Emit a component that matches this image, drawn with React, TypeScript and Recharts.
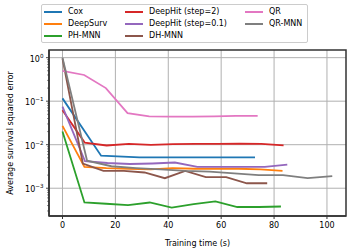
import { LineChart, Line, XAxis, YAxis, CartesianGrid, Legend, ReferenceArea } from "recharts";

// training time (s) and error for each method
const coxTime = [0, 14.6, 29.1, 43.7, 58.2, 72.8];
const coxErr = [0.116, 0.0056, 0.0051, 0.0051, 0.0051, 0.0051];

const deepSurvTime = [0, 8.3, 16.6, 25.0, 33.3, 41.6, 49.9, 58.2, 66.6, 74.9, 83.2];
const deepSurvErr = [0.027, 0.0031, 0.0029, 0.0028, 0.0027, 0.0029, 0.0028, 0.0028, 0.0028, 0.0027, 0.0025];

const phMnnTime = [0, 8.3, 16.5, 24.8, 33.0, 41.3, 49.6, 57.8, 66.1, 74.3, 82.6];
const phMnnErr = [0.02, 0.00047, 0.00044, 0.00041, 0.00047, 0.00036, 0.00043, 0.0005, 0.00037, 0.00037, 0.00038];

const deepHit2Time = [0, 8.4, 16.7, 25.1, 33.4, 41.8, 50.2, 58.5, 66.9, 75.2, 83.6];
const deepHit2Err = [0.062, 0.0112, 0.0096, 0.0104, 0.0099, 0.0103, 0.0104, 0.0104, 0.0106, 0.0105, 0.0096];

const deepHit01Time = [0, 8.5, 17, 25.5, 34, 42.5, 51, 59.5, 68, 76.5, 85];
const deepHit01Err = [0.075, 0.0042, 0.0038, 0.0036, 0.0037, 0.0039, 0.0031, 0.0031, 0.0031, 0.0031, 0.0035];

const dhMnnTime = [0, 7.7, 15.5, 23.2, 31, 38.7, 46.4, 54.2, 61.9, 69.7, 77.4];
const dhMnnErr = [0.95, 0.0037, 0.0025, 0.0025, 0.0023, 0.0017, 0.0025, 0.0018, 0.0018, 0.0013, 0.0013];

const qrTime = [0, 8.2, 16.4, 24.6, 32.8, 41, 49.2, 57.4, 65.6, 73.8];
const qrErr = [0.5, 0.4, 0.2, 0.053, 0.045, 0.044, 0.044, 0.045, 0.046, 0.046];

const qrMnnTime = [0, 9.3, 18.5, 27.8, 37.1, 46.4, 55.6, 64.9, 74.2, 83.4, 92.7, 102];
const qrMnnErr = [1.0, 0.0043, 0.0032, 0.0029, 0.0027, 0.0025, 0.0024, 0.0022, 0.002, 0.002, 0.0017, 0.0019];

const xTicks = [0, 20, 40, 60, 80, 100];
const yMajor = [1e-3, 1e-2, 1e-1, 1];
const yExp = ["\u22123", "\u22122", "\u22121", "0"];

const series = [
  { name: "Cox", color: "#1f77b4", time: coxTime, err: coxErr },
  { name: "DeepSurv", color: "#ff7f0e", time: deepSurvTime, err: deepSurvErr },
  { name: "PH-MNN", color: "#2ca02c", time: phMnnTime, err: phMnnErr },
  { name: "DeepHit (step=2)", color: "#d62728", time: deepHit2Time, err: deepHit2Err },
  { name: "DeepHit (step=0.1)", color: "#9467bd", time: deepHit01Time, err: deepHit01Err },
  { name: "DH-MNN", color: "#8c564b", time: dhMnnTime, err: dhMnnErr },
  { name: "QR", color: "#e377c2", time: qrTime, err: qrErr },
  { name: "QR-MNN", color: "#7f7f7f", time: qrMnnTime, err: qrMnnErr },
];

const X_DOMAIN = [-5.1, 107.2];
const Y_DOMAIN = [2.3e-4, 1.5];
const FONT = "DejaVu Sans, sans-serif";
const PLOT_LEFT = 49;

// log minor ticks (2..9 x 10^k) plus the majors
const yTicks: number[] = [];
[1e-4, 1e-3, 1e-2, 1e-1].forEach((d) => {
  for (let m = 1; m <= 9; m++) {
    const v = +(m * d).toPrecision(3);
    if (v >= Y_DOMAIN[0] && v <= Y_DOMAIN[1]) yTicks.push(v);
  }
});
yTicks.push(1);

const YTick = (props: any) => {
  const { y, payload } = props;
  const idx = yMajor.findIndex((m) => Math.abs(m - payload.value) / m < 1e-6);
  if (idx < 0) {
    return <line x1={PLOT_LEFT - 1.7} x2={PLOT_LEFT} y1={y} y2={y} stroke="#333" strokeWidth={0.8} />;
  }
  return (
    <g>
      <line x1={PLOT_LEFT - 3} x2={PLOT_LEFT} y1={y} y2={y} stroke="#333" strokeWidth={0.9} />
      <text x={43.5} y={y + 4} textAnchor="end" fontSize={8} fontFamily={FONT} fill="#000">
        10<tspan dy={-4} fontSize={5.6}>{yExp[idx]}</tspan>
      </text>
    </g>
  );
};

const LegendBox = () => {
  const colX = [3, 84, 204];
  const rowY = [6.7, 19.1, 31.3];
  return (
    <div
      style={{
        position: "relative",
        width: 267,
        height: 39,
        border: "1px solid #cccccc",
        borderRadius: 2,
        background: "rgba(255,255,255,0.8)",
        boxSizing: "border-box",
        fontFamily: FONT,
        fontSize: 8,
      }}
    >
      {series.map((s, i) => {
        const col = Math.floor(i / 3);
        const row = i % 3;
        return (
          <div key={s.name} style={{ position: "absolute", left: colX[col] - 1, top: rowY[row] - 6, height: 12, display: "flex", alignItems: "center", whiteSpace: "nowrap" }}>
            <span style={{ display: "inline-block", width: 18, height: 2.2, background: s.color, marginRight: 6 }} />
            <span style={{ color: "#000", lineHeight: "12px" }}>{s.name}</span>
          </div>
        );
      })}
    </div>
  );
};

export default function App() {
  return (
    <div style={{ position: "absolute", left: 0, top: 0, width: 350, height: 250, background: "#fff" }}>
      <LineChart width={350} height={250} margin={{ top: 50, right: 4, bottom: 0, left: 0 }}>
        <CartesianGrid horizontalValues={yMajor} verticalValues={xTicks} stroke="#b0b0b0" strokeWidth={1} strokeDasharray="" />
        <XAxis
          type="number"
          dataKey="t"
          domain={X_DOMAIN}
          allowDataOverflow
          ticks={xTicks}
          height={34}
          tickSize={3}
          tickMargin={3.5}
          tick={{ fontSize: 8, fill: "#000", fontFamily: FONT }}
          stroke="#333"
          axisLine={{ stroke: "#333", strokeWidth: 1.5 }}
          tickLine={{ stroke: "#333" }}
          label={{ value: "Training time (s)", position: "insideBottom", offset: 4, fontSize: 8, fill: "#000", fontFamily: FONT }}
        />
        <YAxis
          type="number"
          dataKey="v"
          scale="log"
          domain={Y_DOMAIN}
          allowDataOverflow
          ticks={yTicks}
          interval={0}
          width={49}
          tickLine={false}
          tick={<YTick />}
          axisLine={{ stroke: "#333", strokeWidth: 1.5 }}
          label={{
            content: () => (
              <text x={10} y={133} transform="rotate(-90 10 133)" textAnchor="middle" dominantBaseline="central" fontSize={8} fontFamily={FONT} fill="#000">
                Average survival squared error
              </text>
            ),
          }}
        />
        {series.map((s) => (
          <Line
            key={s.name}
            name={s.name}
            data={s.time.map((t, i) => ({ t, v: s.err[i] }))}
            dataKey="v"
            stroke={s.color}
            strokeWidth={1.8}
            dot={false}
            activeDot={false}
            isAnimationActive={false}
          />
        ))}
        <ReferenceArea x1={X_DOMAIN[0]} x2={X_DOMAIN[1]} y1={Y_DOMAIN[0]} y2={Y_DOMAIN[1]} fill="none" fillOpacity={0} stroke="#333" strokeWidth={1.5} ifOverflow="visible" />
        <Legend
          layout="vertical"
          verticalAlign="middle"
          align="center"
          content={<LegendBox />}
          wrapperStyle={{ top: 4, left: 41, width: 267, height: 39 }}
        />
      </LineChart>
    </div>
  );
}
